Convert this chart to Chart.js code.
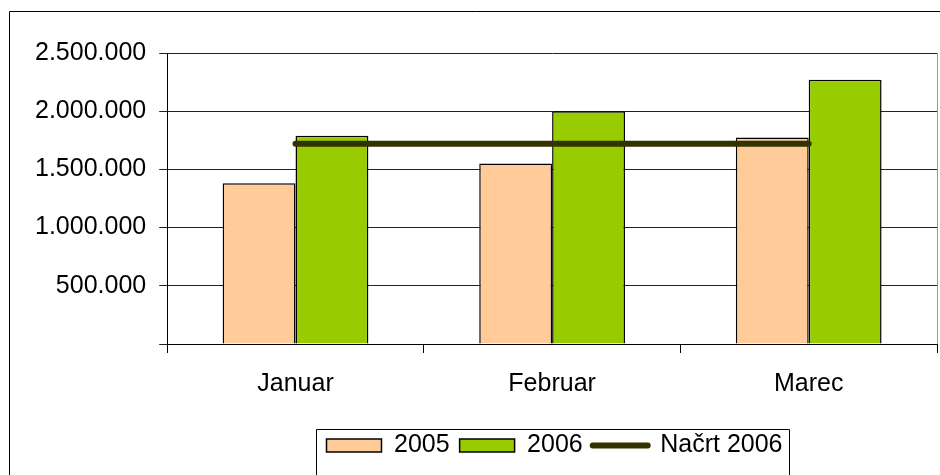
<!DOCTYPE html>
<html>
<head>
<meta charset="utf-8">
<script src="https://cdn.jsdelivr.net/npm/chart.js@4"></script>
<style>
  html, body { margin: 0; padding: 0; background: #fff; overflow: hidden; }
</style>
</head>
<body>
<canvas id="myChart" width="940" height="475"></canvas>
<script>
const categories = ['Januar', 'Februar', 'Marec'];
const values2005 = [1380000, 1550000, 1775000];
const values2006 = [1790000, 2000000, 2270000];
const plan2006 = [1720000, 1720000, 1720000];
const yTicks = [0, 500000, 1000000, 1500000, 2000000, 2500000];

const fontFamily = '"Liberation Sans", Arial, sans-serif';

function formatNum(v) {
    return String(v).replace(/\B(?=(\d{3})+(?!\d))/g, '.');
}

// frame round the whole chart, legend box and plot border
const framePlugin = {
    id: 'frame',
    afterLayout(chart) {
        // legend sits right of centre in the original
        chart.legend.left += 75;
        chart.legend.right += 75;
    },
    beforeDatasetsDraw(chart) {
        const ctx = chart.ctx;
        const a = chart.chartArea;
        ctx.save();
        ctx.strokeStyle = '#999';
        ctx.lineWidth = 1;
        ctx.beginPath();
        ctx.moveTo(a.right + 0.5, a.top);
        ctx.lineTo(a.right + 0.5, a.bottom);
        ctx.stroke();
        ctx.restore();
    },
    afterDraw(chart) {
        const ctx = chart.ctx;
        ctx.save();
        ctx.strokeStyle = '#000';
        ctx.lineWidth = 1;
        ctx.beginPath();
        ctx.moveTo(9.5, chart.height + 5);
        ctx.lineTo(9.5, 11.5);
        ctx.lineTo(chart.width + 5, 11.5);
        ctx.stroke();

        const boxes = chart.legend.legendHitBoxes;
        if (boxes && boxes.length) {
            const first = boxes[0];
            const last = boxes[boxes.length - 1];
            const left = first.left - 10;
            const right = last.left + last.width + 6;
            const top = first.top - 4;
            ctx.beginPath();
            ctx.moveTo(Math.round(left) + 0.5, chart.height + 5);
            ctx.lineTo(Math.round(left) + 0.5, Math.round(top) + 0.5);
            ctx.lineTo(Math.round(right) + 0.5, Math.round(top) + 0.5);
            ctx.lineTo(Math.round(right) + 0.5, chart.height + 5);
            ctx.stroke();
        }
        ctx.restore();
    }
};

const ctx = document.getElementById('myChart');
const myChart = new Chart(ctx, {
    type: 'bar',
    data: {
        labels: categories,
        datasets: [{
            label: '2005',
            data: values2005,
            backgroundColor: '#FFCC99',
            borderColor: '#000',
            borderWidth: 1.5,
            categoryPercentage: 0.568,
            barPercentage: 1,
            order: 1
        }, {
            label: '2006',
            data: values2006,
            backgroundColor: '#99CC00',
            borderColor: '#000',
            borderWidth: 1.5,
            categoryPercentage: 0.568,
            barPercentage: 1,
            order: 1
        }, {
            type: 'line',
            label: 'Načrt 2006',
            data: plan2006,
            borderColor: '#333300',
            backgroundColor: '#333300',
            borderWidth: 6,
            borderCapStyle: 'round',
            pointRadius: 0,
            pointStyle: 'line',
            fill: false,
            order: 0
        }]
    },
    options: {
        responsive: false,
        animation: false,
        layout: {
            padding: { left: 22, right: 3, top: 53, bottom: 7 }
        },
        plugins: {
            legend: {
                position: 'bottom',
                labels: {
                    usePointStyle: true,
                    pointStyleWidth: 55,
                    boxHeight: 13,
                    padding: 10,
                    color: '#000',
                    font: { family: fontFamily, size: 25 },
                    sort: (a, b) => a.datasetIndex - b.datasetIndex,
                    generateLabels(chart) {
                        const items = Chart.defaults.plugins.legend.labels.generateLabels(chart);
                        items.forEach(item => {
                            if (item.datasetIndex === 2) {
                                item.pointStyle = 'line';
                                item.lineWidth = 6;
                                item.lineCap = 'round';
                                item.strokeStyle = '#333300';
                            } else {
                                item.pointStyle = 'rect';
                                item.lineWidth = 1.5;
                                item.strokeStyle = '#000';
                            }
                        });
                        return items;
                    }
                }
            },
            tooltip: { enabled: false }
        },
        scales: {
            x: {
                offset: true,
                afterFit(scale) {
                    scale.height += 8;
                },
                grid: {
                    offset: true,
                    drawOnChartArea: false,
                    drawTicks: true,
                    tickLength: 9,
                    color: '#000'
                },
                border: { color: '#000', width: 1 },
                ticks: {
                    color: '#000',
                    padding: 16,
                    font: { family: fontFamily, size: 25 }
                }
            },
            y: {
                min: 0,
                max: 2500000,
                afterBuildTicks(scale) {
                    scale.ticks = yTicks.map(v => ({ value: v }));
                },
                grid: {
                    color: '#222',
                    lineWidth: 1,
                    tickLength: 8
                },
                border: { color: '#000', width: 1 },
                ticks: {
                    color: '#000',
                    padding: 13,
                    font: { family: fontFamily, size: 25 },
                    callback: v => v === 0 ? '' : formatNum(v)
                }
            }
        }
    },
    plugins: [framePlugin]
});
</script>
</body>
</html>
